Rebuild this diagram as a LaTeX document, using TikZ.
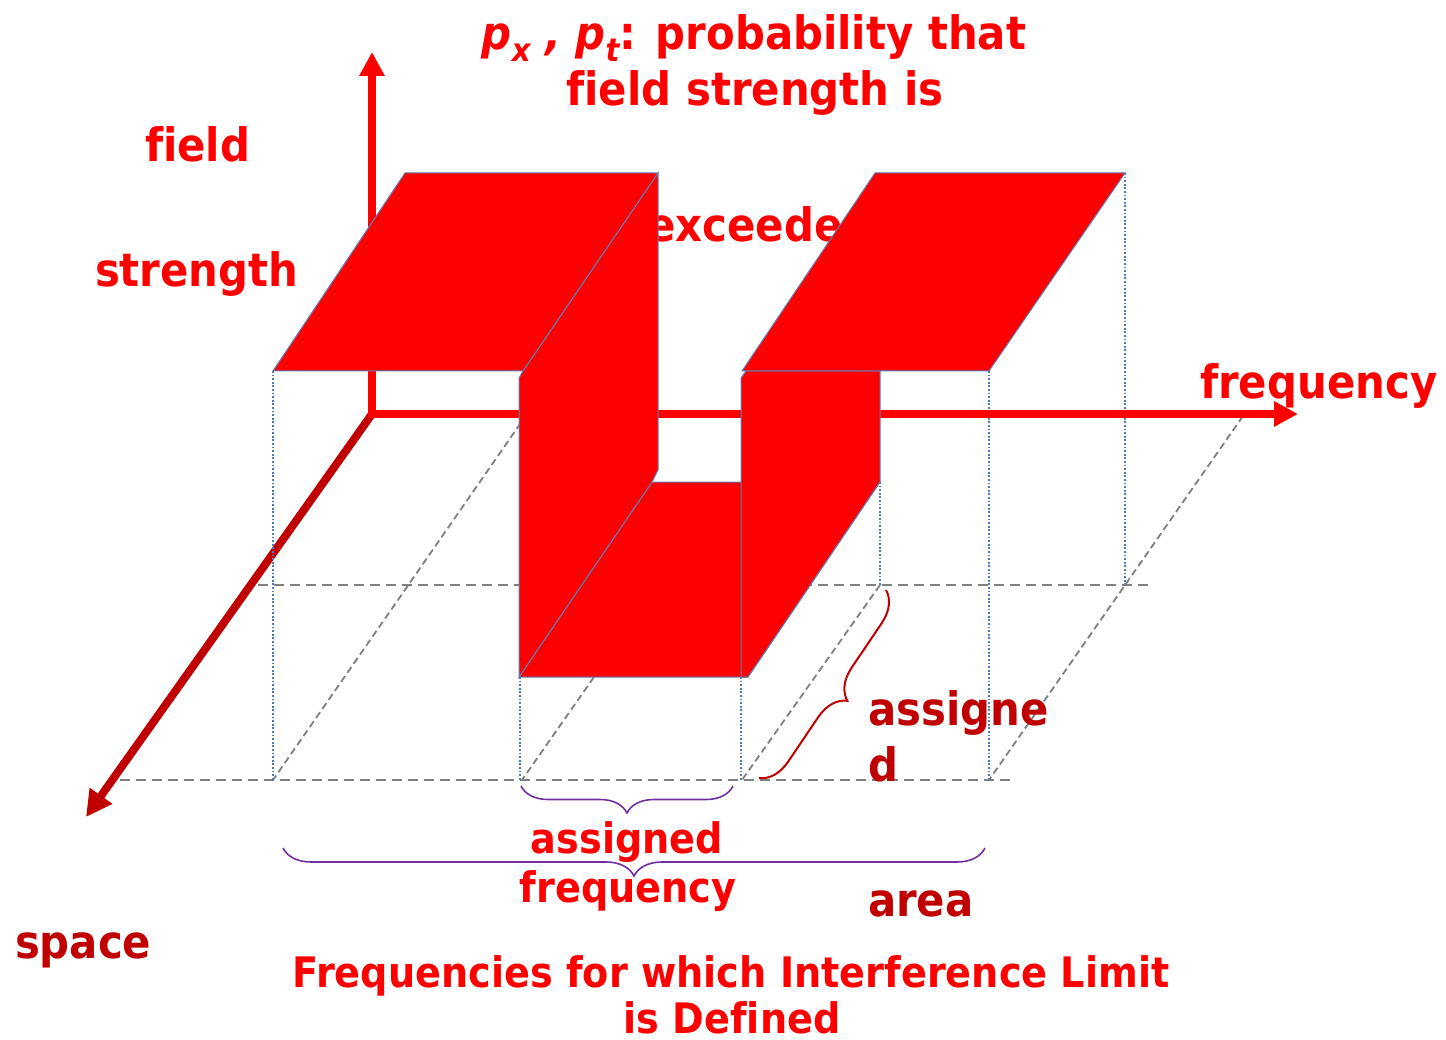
\documentclass[tikz,border=0pt]{standalone}
\usepackage{fontspec}
\newfontfamily\tf[FakeStretch=0.91,Ligatures={NoCommon}]{DejaVu Sans}
\usetikzlibrary{arrows.meta,decorations.pathreplacing}
\definecolor{pred}{HTML}{FF0000}
\definecolor{dred}{HTML}{C00000}
\definecolor{ppl}{HTML}{7030A0}
\definecolor{edgeblue}{HTML}{5B80B8}
\definecolor{dotblue}{HTML}{4A7EBB}
\definecolor{dashgrey}{HTML}{7F7F7F}
\tikzset{
  big/.style={font=\tf\bfseries\fontsize{46}{50}\selectfont, inner sep=0pt, outer sep=0pt},
  mid/.style={font=\tf\bfseries\fontsize{42}{46}\selectfont, inner sep=0pt, outer sep=0pt},
  axtip/.tip={Triangle[length=24pt,width=24pt]},
  dashh/.style={dashgrey, line width=2.6pt, dash pattern=on 10pt off 6pt},
  dashd/.style={dashgrey, line width=1.8pt, dash pattern=on 7pt off 4pt},
  dotv/.style={dotblue, line width=1.8pt, dash pattern=on 1.8pt off 1.8pt},
  slab/.style={fill=pred, draw=edgeblue, line width=1pt, line join=miter},
  pbrace/.style={ppl, line width=1.6pt, decorate, decoration={brace, amplitude=#1}},
}
\begin{document}
\begin{tikzpicture}[x=1pt,y=-1pt]
\useasboundingbox (0,0) rectangle (1446,1040);
% axis points
\coordinate (O) at (372,414);
\coordinate (vtip) at (372,52);
\coordinate (ftip) at (1298,414);
\coordinate (stip) at (86,817);

% space axis
\draw[dred, line width=8pt, -{Triangle[length=26pt,width=26pt]}] (O) -- (stip);

% text partly hidden behind the shapes
\node[big, pred, anchor=base] (t3) at (760,242) {exceeded};

% floor grid (dashed)
\draw[dashh] (258,585) -- (1148,585);
\draw[dashh] (120,780) -- (1012,780);
\draw[dashd] (527,414) -- (273,780);
\draw[dashd] (594,677) -- (522,780);
\draw[dashd] (880,585) -- (742,780);
\draw[dashd] (1243,416) -- (989,780);

% dotted projection lines
\draw[dotv] (273,371) -- (273,780);
\draw[dotv] (520,677) -- (520,780);
\draw[dotv] (741,677) -- (741,780);
\draw[dotv] (880,482) -- (880,585);
\draw[dotv] (989,371) -- (989,780);
\draw[dotv] (1125,173) -- (1125,585);

% red axes
\draw[pred, line width=7.5pt, line join=miter, axtip-axtip] (vtip) -- (O) -- (ftip);

% surface
\filldraw[slab] (652,482) -- (880,482) -- (748,677) -- (519,677) -- cycle;
\filldraw[slab] (658,173) -- (658,470) -- (652,482) -- (519,677) -- (519,378) -- (523,371) -- cycle;
\filldraw[slab] (405,173) -- (658,173) -- (523,371) -- (273,371) -- cycle;
\filldraw[slab] (741,378) -- (746,371) -- (880,371) -- (880,482) -- (748,677) -- (741,677) -- cycle;
\filldraw[slab] (875,173) -- (1125,173) -- (989,371) -- (742,371) -- cycle;

% braces
\draw[pbrace=27pt] (733,786) -- (521,786);
\draw[pbrace=28pt] (985,848) -- (283,848);
\draw[dred, line width=2pt, decorate, decoration={brace, amplitude=30pt}] (886,590) -- (759,778);

% labels
\node[big, pred, anchor=base] (t1) at (754,50) {{\itshape p\raisebox{-0.25em}{\fontsize{32}{32}\selectfont x}} {\itshape ,} {\itshape p\raisebox{-0.25em}{\fontsize{32}{32}\selectfont t}}: probability that};
\node[big, pred, anchor=base] (t2) at (755,106) {field strength is};
\node[big, pred, anchor=base west] (fs1) at (145,162) {field};
\node[big, pred, anchor=base west] (fs2) at (95,287) {strength};
\node[big, pred, anchor=base west] (fq) at (1200,399) {frequency};
\node[big, dred, anchor=base west] (sp) at (15,958) {space};
\node[big, dred, anchor=base west] (as1) at (868,725) {assigne};
\node[big, dred, anchor=base west] (as2) at (868,781) {d};
\node[big, dred, anchor=base west] (ar) at (868,916) {area};
\node[mid, pred, anchor=base] (af1) at (627,853) {assigned};
\node[mid, pred, anchor=base] (af2) at (628,902) {frequency};
\node[mid, pred, anchor=base] (b1) at (731,987) {Frequencies for which Interference Limit};
\node[mid, pred, anchor=base] (b2) at (732,1033) {is Defined};
\end{tikzpicture}
\end{document}
